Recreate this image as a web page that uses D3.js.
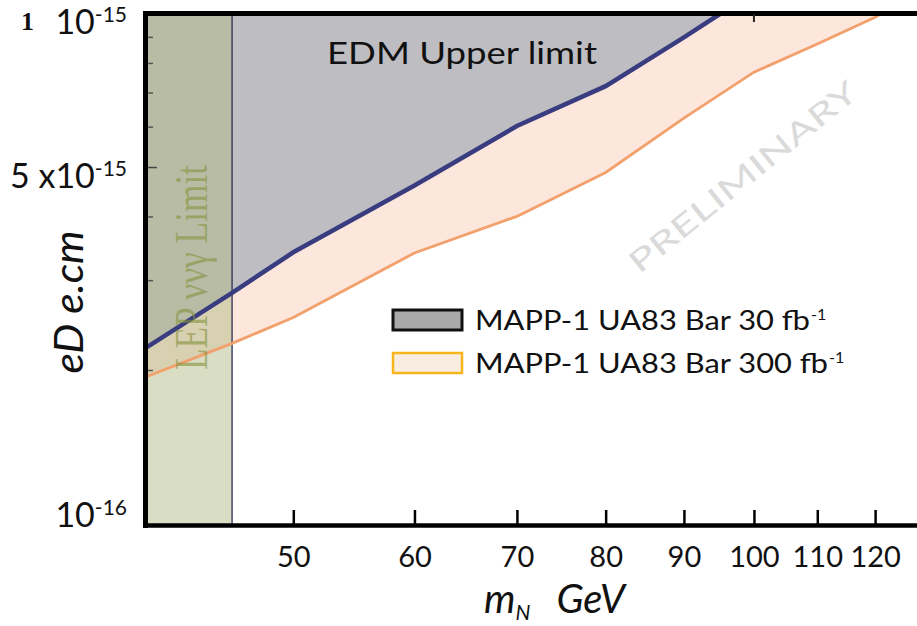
<!DOCTYPE html>
<html><head><meta charset="utf-8">
<script src="https://cdn.jsdelivr.net/npm/d3@7"></script>
<style>body{margin:0;background:#fff}svg{display:block}</style>
</head><body><svg id="c" width="917" height="626"></svg>
<script>
// ---- data ----
const mass30  = [40, 45.6, 50, 60, 70, 80, 90, 95];
const edm30   = [2.21e-16, 2.84e-16, 3.41e-16, 4.61e-16, 6.03e-16, 7.22e-16, 9.0e-16, 1.0e-15];
const mass300 = [40, 45.6, 50, 60, 70, 80, 90, 100, 110, 120, 121];
const edm300  = [1.94e-16, 2.26e-16, 2.54e-16, 3.40e-16, 4.01e-16, 4.89e-16, 6.25e-16, 7.69e-16, 8.73e-16, 9.85e-16, 1.0e-15];
const lepLimit = 45.6;
const xTicks = [50, 60, 70, 80, 90, 100, 110, 120];
const yTickValues = [1e-16, 5e-16, 1e-15];
const yTickMain = ["10", "5 x10", "10"];
const yTickSup = ["-16", "-15", "-15"];
const yMinor = [2e-16, 3e-16, 4e-16, 6e-16, 7e-16, 8e-16, 9e-16];
const legendLabels = ["MAPP-1 UA83 Bar 30 fb", "MAPP-1 UA83 Bar 300 fb"];
const legendSup = ["-1", "-1"];

const svg = d3.select("#c");
const font = "Lato, 'Open Sans', sans-serif";
svg.append("rect").attr("width", 917).attr("height", 626).attr("fill", "#fff");

const x = d3.scaleLog().domain([40, 128]).range([145, 918]);
const y = d3.scaleLog().domain([1e-16, 1e-15]).range([524, 14]);

svg.append("clipPath").attr("id", "clip").append("rect")
  .attr("x", 145).attr("y", 14).attr("width", 773).attr("height", 510);
const plot = svg.append("g").attr("clip-path", "url(#clip)");

const d30 = mass30.map((m, i) => [m, edm30[i]]);
const d300 = mass300.map((m, i) => [m, edm300[i]]);
const yTop = y.domain()[1];
const yBot = y.domain()[0];

// peach band (below blue, above orange)
plot.append("path").datum(d300)
  .attr("d", d3.area().x(d => x(d[0])).y0(y(yTop)).y1(d => y(d[1])))
  .attr("fill", "#fde6dc");
// grey excluded region (above blue)
plot.append("path").datum(d30)
  .attr("d", d3.area().x(d => x(d[0])).y0(y(yTop)).y1(d => y(d[1])))
  .attr("fill", "#bebdc2");
// LEP band
plot.append("rect")
  .attr("x", x(40)).attr("width", x(lepLimit) - x(40))
  .attr("y", y(yTop)).attr("height", y(yBot) - y(yTop))
  .attr("fill", "rgb(178,188,135)").attr("fill-opacity", 0.5);
plot.append("line")
  .attr("x1", x(lepLimit)).attr("x2", x(lepLimit))
  .attr("y1", y(yTop)).attr("y2", y(yBot))
  .attr("stroke", "#2a2f55").attr("stroke-width", 1.3);

// curves
plot.append("path").datum(d300)
  .attr("d", d3.line().x(d => x(d[0])).y(d => y(d[1])))
  .attr("fill", "none").attr("stroke", "#f2a06c").attr("stroke-width", 2.8);
plot.append("path").datum(d30)
  .attr("d", d3.line().x(d => x(d[0])).y(d => y(d[1])))
  .attr("fill", "none").attr("stroke", "#393d80").attr("stroke-width", 4.5);

// LEP text
plot.append("text")
  .attr("transform", `translate(207,370) rotate(-90)`)
  .attr("font-family", "'Liberation Serif', 'DejaVu Serif', serif")
  .attr("font-size", 46)
  .attr("textLength", 205).attr("lengthAdjust", "spacingAndGlyphs")
  .attr("fill", "#84923a").attr("fill-opacity", 0.6)
  .text("LEP ννγ Limit");

// EDM Upper limit
svg.append("text").attr("x", 327).attr("y", 64)
  .attr("font-family", font).attr("font-size", 31)
  .attr("textLength", 270).attr("lengthAdjust", "spacingAndGlyphs")
  .attr("fill", "#111").text("EDM Upper limit");

// PRELIMINARY watermark
svg.append("text")
  .attr("transform", "translate(743,177) rotate(-39)")
  .attr("text-anchor", "middle").attr("dy", "0.35em")
  .attr("font-family", font).attr("font-size", 30)
  .attr("textLength", 284).attr("lengthAdjust", "spacingAndGlyphs")
  .attr("fill", "#dadada").text("PRELIMINARY");

// frame
svg.append("line").attr("x1", 143).attr("x2", 917).attr("y1", 13.5).attr("y2", 13.5)
  .attr("stroke", "#000").attr("stroke-width", 5);
svg.append("line").attr("x1", 145.5).attr("x2", 145.5).attr("y1", 11).attr("y2", 528)
  .attr("stroke", "#000").attr("stroke-width", 5);
svg.append("line").attr("x1", 143).attr("x2", 917).attr("y1", 525.5).attr("y2", 525.5)
  .attr("stroke", "#000").attr("stroke-width", 4.5);

// bottom axis
const xAxis = svg.append("g").attr("transform", "translate(0,524)")
  .call(d3.axisBottom(x).tickValues(xTicks).tickFormat(d3.format("d"))
    .tickSizeInner(-14).tickSizeOuter(0).tickPadding(22));
xAxis.select(".domain").remove();
xAxis.selectAll("line").attr("stroke", "#000").attr("stroke-width", 2.5);
xAxis.selectAll("text").attr("font-family", font).attr("font-size", 29).attr("fill", "#111");

// top tick at 100
svg.append("line").attr("x1", x(100)).attr("x2", x(100)).attr("y1", 14).attr("y2", 22)
  .attr("stroke", "#222").attr("stroke-width", 2);

// left minor ticks
svg.selectAll(".ymin").data(yMinor).enter().append("line")
  .attr("x1", 148).attr("x2", 153)
  .attr("y1", d => y(d)).attr("y2", d => y(d))
  .attr("stroke", "#555").attr("stroke-width", 1.5);
svg.append("line").attr("x1", 148).attr("x2", 157)
  .attr("y1", y(5e-16)).attr("y2", y(5e-16))
  .attr("stroke", "#444").attr("stroke-width", 1.5);

// y tick labels
yTickValues.forEach((v, i) => {
  const t = svg.append("text")
    .attr("x", 127).attr("y", Math.min(y(v) + 20, 527))
    .attr("text-anchor", "end")
    .attr("font-family", font).attr("font-size", 34).attr("fill", "#111");
  t.append("tspan").text(yTickMain[i]);
  t.append("tspan").attr("font-size", 21).attr("dy", -12).text(yTickSup[i]);
});
svg.append("text").attr("x", 21).attr("y", 30)
  .attr("font-family", "'Liberation Serif', serif").attr("font-weight", "bold")
  .attr("font-size", 26).attr("fill", "#111").text("1");

// axis titles
const xt = svg.append("text").attr("x", 484).attr("y", 613)
  .attr("font-family", font).attr("font-style", "italic").attr("font-size", 40).attr("fill", "#111");
xt.append("tspan").text("m");
xt.append("tspan").attr("font-size", 21).attr("dy", 7).text("N");
xt.append("tspan").attr("dy", -7).attr("dx", 26).text("GeV");

svg.append("text")
  .attr("transform", "translate(83,302) rotate(-90)")
  .attr("text-anchor", "middle")
  .attr("font-family", font).attr("font-style", "italic").attr("font-size", 40)
  .attr("textLength", 143).attr("lengthAdjust", "spacingAndGlyphs")
  .attr("fill", "#111").text("eD e.cm");

// legend
const legFill = ["#a9a9aa", "#f9ede2"];
const legStroke = ["#111", "#f6b51a"];
const legW = [3, 2.5];
const legY = [310, 353];
const legLen = [335, 353];
legendLabels.forEach((lab, i) => {
  svg.append("rect").attr("x", 393).attr("y", legY[i]).attr("width", 69).attr("height", 20)
    .attr("fill", legFill[i]).attr("stroke", legStroke[i]).attr("stroke-width", legW[i]);
  svg.append("text").attr("x", 475).attr("y", legY[i] + 20)
    .attr("font-family", font).attr("font-size", 27).attr("fill", "#111")
    .attr("textLength", legLen[i]).attr("lengthAdjust", "spacingAndGlyphs")
    .text(lab);
  svg.append("text").attr("x", 475 + legLen[i] + 1).attr("y", legY[i] + 10)
    .attr("font-family", font).attr("font-size", 16).attr("fill", "#111")
    .text(legendSup[i]);
});
</script></body></html>
